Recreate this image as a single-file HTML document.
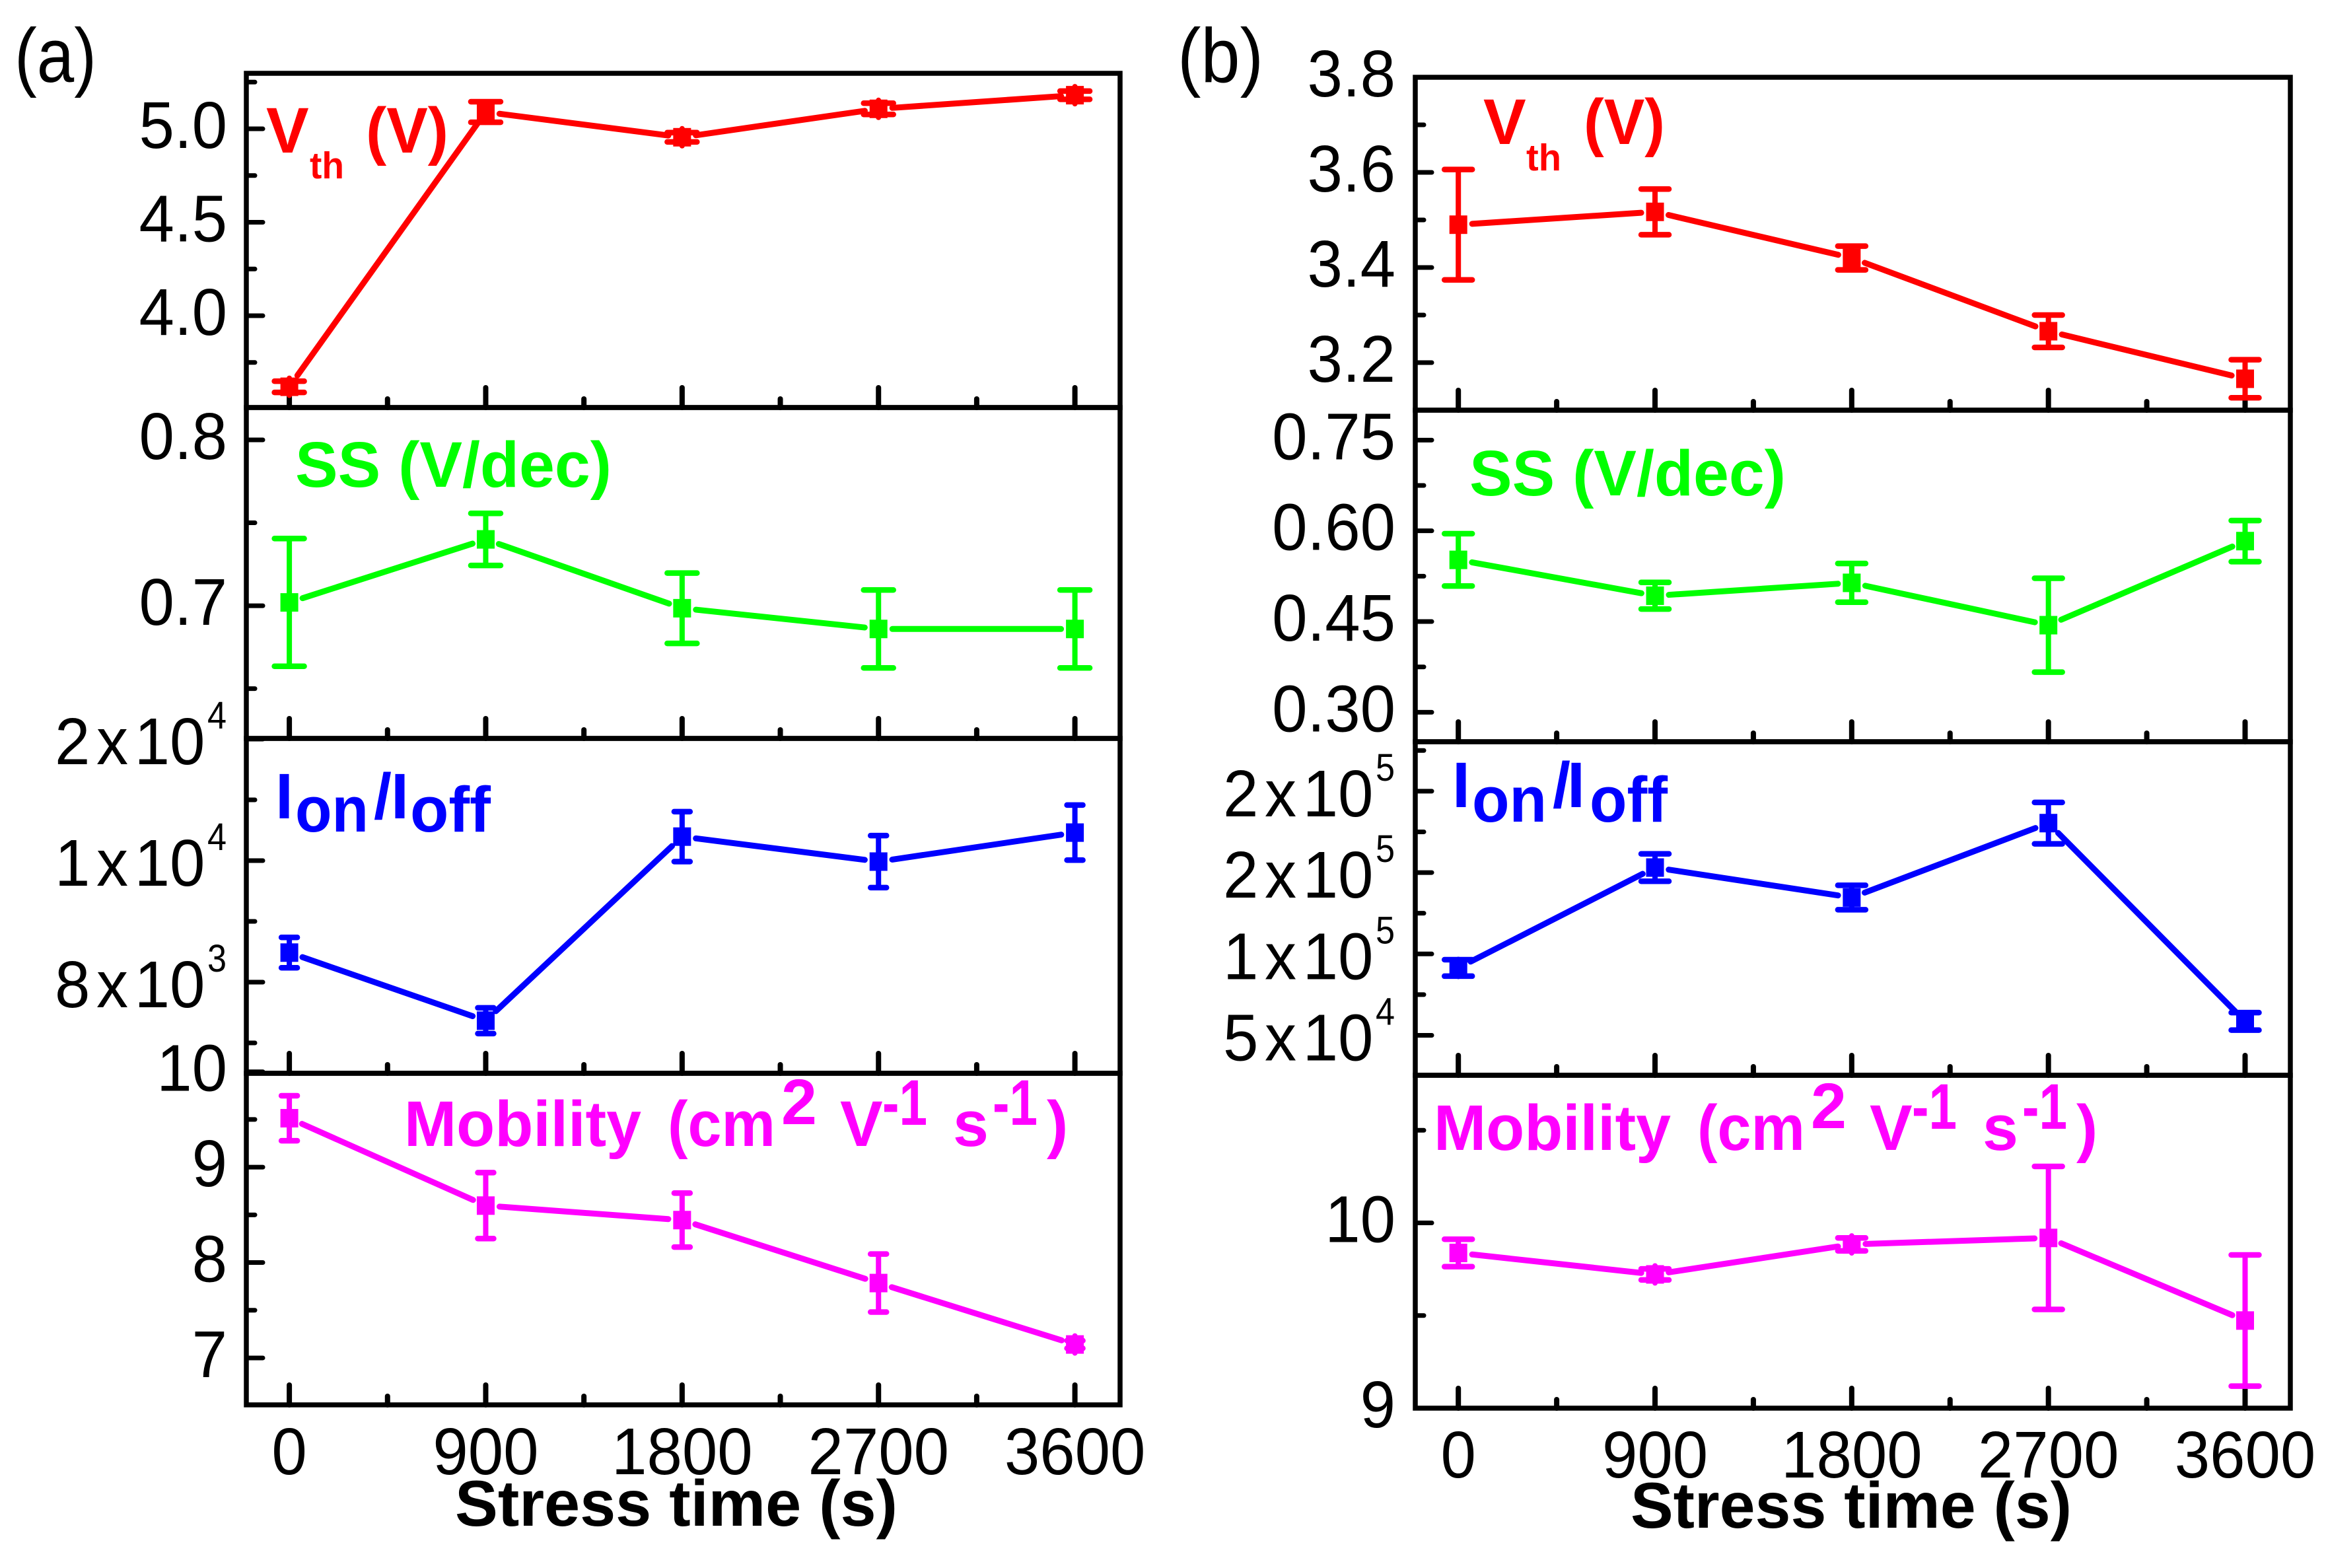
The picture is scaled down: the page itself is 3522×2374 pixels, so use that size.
<!DOCTYPE html>
<html lang="en">
<head>
<meta charset="utf-8">
<title>Stress time parameter charts</title>
<style>
html,body{margin:0;padding:0;background:#fff;width:3522px;height:2374px;overflow:hidden}
svg{display:block;font-family:"Liberation Sans",sans-serif}
.tick{font-size:100px;fill:#000}
.sup{font-size:58px;fill:#000}
.lab{font-size:97px;font-weight:bold}
.sub{font-size:57px;font-weight:bold}
.title{font-size:98px;font-weight:bold;fill:#000}
.letter{font-size:116px;fill:#000}
</style>
</head>
<body>
<svg id="chart" xmlns="http://www.w3.org/2000/svg" width="3522" height="2374" viewBox="0 0 3522 2374">
  <rect x="0" y="0" width="3522" height="2374" fill="#fff"/>
  <g id="plots"></g>

  <text class="letter" x="22" y="124" textLength="124" lengthAdjust="spacingAndGlyphs">(a)</text>
  <text class="letter" x="1783" y="124" textLength="130" lengthAdjust="spacingAndGlyphs">(b)</text>

  <text class="title" x="689" y="2310" textLength="670" lengthAdjust="spacingAndGlyphs">Stress time (s)</text>
  <text class="title" x="2469" y="2313" textLength="668" lengthAdjust="spacingAndGlyphs">Stress time (s)</text>

  <g fill="#f00">
    <text class="lab" x="403" y="231">V</text>
    <text class="sub" x="469" y="270" textLength="52" lengthAdjust="spacingAndGlyphs">th</text>
    <text class="lab" x="554" y="231" textLength="125" lengthAdjust="spacingAndGlyphs">(V)</text>
  </g>
  <g fill="#f00">
    <text class="lab" x="2246" y="218">V</text>
    <text class="sub" x="2311" y="258" textLength="53" lengthAdjust="spacingAndGlyphs">th</text>
    <text class="lab" x="2398" y="218" textLength="123" lengthAdjust="spacingAndGlyphs">(V)</text>
  </g>

  <text class="lab" fill="#0f0" x="447" y="737" textLength="479" lengthAdjust="spacingAndGlyphs">SS (V/dec)</text>
  <text class="lab" fill="#0f0" x="2225" y="750" textLength="479" lengthAdjust="spacingAndGlyphs">SS (V/dec)</text>

  <g fill="#00f">
    <text class="lab" x="417" y="1239">I</text>
    <text class="lab" x="447" y="1259" textLength="111" lengthAdjust="spacingAndGlyphs">on</text>
    <text class="lab" x="566" y="1239">/</text>
    <text class="lab" x="592" y="1239">I</text>
    <text class="lab" x="621" y="1259" textLength="122" lengthAdjust="spacingAndGlyphs">off</text>
  </g>
  <g fill="#00f">
    <text class="lab" x="2199" y="1222">I</text>
    <text class="lab" x="2229" y="1244" textLength="113" lengthAdjust="spacingAndGlyphs">on</text>
    <text class="lab" x="2351" y="1222">/</text>
    <text class="lab" x="2373" y="1222">I</text>
    <text class="lab" x="2407" y="1244" textLength="118" lengthAdjust="spacingAndGlyphs">off</text>
  </g>

  <g fill="#f0f">
    <text class="lab" x="612" y="1735" textLength="359" lengthAdjust="spacingAndGlyphs">Mobility</text>
    <text class="lab" x="1011" y="1735" textLength="163" lengthAdjust="spacingAndGlyphs">(cm</text>
    <text class="lab" x="1183" y="1702">2</text>
    <text class="lab" x="1272" y="1735">V</text>
    <text class="lab" x="1336" y="1703" textLength="68" lengthAdjust="spacingAndGlyphs">-1</text>
    <text class="lab" x="1443" y="1735">s</text>
    <text class="lab" x="1503" y="1703" textLength="68" lengthAdjust="spacingAndGlyphs">-1</text>
    <text class="lab" x="1585" y="1735">)</text>
  </g>
  <g fill="#f0f">
    <text class="lab" x="2171" y="1741" textLength="359" lengthAdjust="spacingAndGlyphs">Mobility</text>
    <text class="lab" x="2570" y="1741" textLength="163" lengthAdjust="spacingAndGlyphs">(cm</text>
    <text class="lab" x="2742" y="1708">2</text>
    <text class="lab" x="2831" y="1741">V</text>
    <text class="lab" x="2895" y="1709" textLength="68" lengthAdjust="spacingAndGlyphs">-1</text>
    <text class="lab" x="3002" y="1741">s</text>
    <text class="lab" x="3062" y="1709" textLength="68" lengthAdjust="spacingAndGlyphs">-1</text>
    <text class="lab" x="3144" y="1741">)</text>
  </g>
</svg>

<script>
// ---- data ----
const timeCategories = [0, 900, 1800, 2700, 3600];
const xTickLabels = ['0', '900', '1800', '2700', '3600'];
const xMinorTicks = [450, 1350, 2250, 3150];
const xDomain = [-197, 3807];

const vthAValues = [3.62, 5.09, 4.955, 5.107, 5.18];
const vthAErrors = [0.03, 0.055, 0.025, 0.03, 0.022];
const vthADomain = [3.509, 5.297];
const vthATicks = [4.0, 4.5, 5.0];
const vthATickLabels = ['4.0', '4.5', '5.0'];
const vthAMinor = [3.75, 4.25, 4.75, 5.25];

const ssAValues = [0.702, 0.74, 0.6985, 0.686, 0.686];
const ssAErrors = [0.0385, 0.0157, 0.0212, 0.0235, 0.0235];
const ssADomain = [0.62, 0.8195];
const ssATicks = [0.7, 0.8];
const ssATickLabels = ['0.7', '0.8'];
const ssAMinor = [0.65, 0.75];

const ionAValues = [8486, 7366, 10395, 9984, 10461];
const ionAErrors = [250, 212, 411, 428, 453];
const ionADomain = [6500, 12011];
const ionATicks = [8000, 10000, 12000];
const ionATickLabels = ['8x10^3', '1x10^4', '2x10^4'];
const ionAMinor = [7000, 9000, 11000];

const mobAValues = [9.513, 8.597, 8.445, 7.785, 7.141];
const mobAErrors = [0.236, 0.346, 0.283, 0.304, 0.04];
const mobADomain = [6.508, 9.984];
const mobATicks = [7, 8, 9, 10];
const mobATickLabels = ['7', '8', '9', '10'];
const mobAMinor = [7.5, 8.5, 9.5];

const vthBValues = [3.49, 3.517, 3.42, 3.266, 3.166];
const vthBErrors = [0.116, 0.048, 0.025, 0.034, 0.04];
const vthBDomain = [3.1, 3.8];
const vthBTicks = [3.2, 3.4, 3.6, 3.8];
const vthBTickLabels = ['3.2', '3.4', '3.6', '3.8'];
const vthBMinor = [3.3, 3.5, 3.7];

const ssBValues = [0.552, 0.4927, 0.514, 0.444, 0.583];
const ssBErrors = [0.0433, 0.022, 0.032, 0.0776, 0.034];
const ssBDomain = [0.2513, 0.7995];
const ssBTicks = [0.3, 0.45, 0.6, 0.75];
const ssBTickLabels = ['0.30', '0.45', '0.60', '0.75'];
const ssBMinor = [0.375, 0.525, 0.675];

const ionBValues = [91411, 153067, 134663, 180368, 58589];
const ionBErrors = [5061, 8436, 7515, 12730, 5368];
const ionBDomain = [25460, 230368];
const ionBTicks = [50000, 100000, 150000, 200000];
const ionBTickLabels = ['5x10^4', '1x10^5', '2x10^5', '2x10^5'];
const ionBMinor = [75000, 125000, 175000, 225000];

const mobBValues = [9.838, 9.722, 9.884, 9.919, 9.473];
const mobBErrors = [0.074, 0.03, 0.035, 0.386, 0.354];
const mobBDomain = [9, 10.797];
const mobBTicks = [9, 10];
const mobBTickLabels = ['9', '10'];
const mobBMinor = [9.5, 10.5];

// ---- layout ----
const SVGNS = 'http://www.w3.org/2000/svg';
const root = document.getElementById('plots');
const columnA = { left: 373, right: 1696, labelRight: 344, sciMainRight: 311, xLabelY: 2232 };
const columnB = { left: 2143, right: 3468, labelRight: 2113, sciMainRight: 2080, xLabelY: 2237 };

const panels = [
  { key: 'vth-a', col: columnA, top: 111, bottom: 617, capHalf: 22.5, color: '#ff0000', values: vthAValues, errors: vthAErrors, domain: vthADomain, ticks: vthATicks, labels: vthATickLabels, minor: vthAMinor },
  { key: 'ss-a', col: columnA, top: 617, bottom: 1118, capHalf: 22.5, color: '#00ff00', values: ssAValues, errors: ssAErrors, domain: ssADomain, ticks: ssATicks, labels: ssATickLabels, minor: ssAMinor },
  { key: 'ion-ioff-a', col: columnA, top: 1118, bottom: 1625, capHalf: 12, color: '#0000ff', values: ionAValues, errors: ionAErrors, domain: ionADomain, ticks: ionATicks, labels: ionATickLabels, minor: ionAMinor },
  { key: 'mobility-a', col: columnA, top: 1625, bottom: 2127, capHalf: 12, color: '#ff00ff', values: mobAValues, errors: mobAErrors, domain: mobADomain, ticks: mobATicks, labels: mobATickLabels, minor: mobAMinor, xLabels: true },
  { key: 'vth-b', col: columnB, top: 117, bottom: 621, capHalf: 21, color: '#ff0000', values: vthBValues, errors: vthBErrors, domain: vthBDomain, ticks: vthBTicks, labels: vthBTickLabels, minor: vthBMinor },
  { key: 'ss-b', col: columnB, top: 621, bottom: 1123, capHalf: 21, color: '#00ff00', values: ssBValues, errors: ssBErrors, domain: ssBDomain, ticks: ssBTicks, labels: ssBTickLabels, minor: ssBMinor },
  { key: 'ion-ioff-b', col: columnB, top: 1123, bottom: 1628, capHalf: 21, color: '#0000ff', values: ionBValues, errors: ionBErrors, domain: ionBDomain, ticks: ionBTicks, labels: ionBTickLabels, minor: ionBMinor },
  { key: 'mobility-b', col: columnB, top: 1628, bottom: 2132, capHalf: 21, color: '#ff00ff', values: mobBValues, errors: mobBErrors, domain: mobBDomain, ticks: mobBTicks, labels: mobBTickLabels, minor: mobBMinor, xLabels: true }
];

function make(tag, attrs, parent) {
  const n = document.createElementNS(SVGNS, tag);
  for (const k in attrs) n.setAttribute(k, attrs[k]);
  parent.appendChild(n);
  return n;
}

function drawPanel(p) {
  const xScale = t => p.col.left + (t - xDomain[0]) / (xDomain[1] - xDomain[0]) * (p.col.right - p.col.left);
  const yScale = v => p.bottom - (v - p.domain[0]) / (p.domain[1] - p.domain[0]) * (p.bottom - p.top);

  const g = make('g', {}, root);
  
  

  const frame = make('rect', { x: p.col.left, y: p.top, width: p.col.right - p.col.left, height: p.bottom - p.top, fill: 'none', stroke: '#000', 'stroke-width': 7.5 }, g);
  
  

  // x ticks
  timeCategories.forEach((t, i) => {
    const tick = make('line', { x1: xScale(t), x2: xScale(t), y1: p.bottom, y2: p.bottom - 30, stroke: '#000', 'stroke-width': 8, 'stroke-linecap': 'round' }, g);
    
    
    if (p.xLabels) {
      const lab = make('text', { transform: 'translate(' + xScale(t) + ',' + p.col.xLabelY + ') scale(0.96,1)', 'text-anchor': 'middle', class: 'tick' }, g);
      lab.textContent = xTickLabels[i];
      
      
    }
  });
  xMinorTicks.forEach(t => {
    const tick = make('line', { x1: xScale(t), x2: xScale(t), y1: p.bottom, y2: p.bottom - 13, stroke: '#000', 'stroke-width': 8, 'stroke-linecap': 'round' }, g);
    
    
  });

  // y ticks
  p.ticks.forEach((v, i) => {
    const y = yScale(v);
    const tick = make('line', { x1: p.col.left, x2: p.col.left + 25, y1: y, y2: y, stroke: '#000', 'stroke-width': 7, 'stroke-linecap': 'round' }, g);
    
    
    const parts = p.labels[i].split('^');
    if (parts.length === 2) {
      const main = make('text', { transform: 'translate(' + (p.col.sciMainRight - 228) + ',' + (y + 38) + ') scale(0.96,1)', class: 'tick' }, g);
      
      
      const chars = [parts[0].slice(0, 1), parts[0].slice(1, 2), parts[0].slice(2)];
      chars.forEach((c, j) => {
        const span = make('tspan', j ? { dx: 10 } : {}, main);
        span.textContent = c;
      });
      const sup = make('text', { transform: 'translate(' + (p.col.sciMainRight + 3) + ',' + (y - 16) + ') scale(0.9,1)', class: 'sup' }, g);
      sup.textContent = parts[1];
      
      
    } else {
      const lab = make('text', { transform: 'translate(' + p.col.labelRight + ',' + (y + 29) + ') scale(0.96,1)', 'text-anchor': 'end', class: 'tick' }, g);
      lab.textContent = parts[0];
      
      
    }
  });
  p.minor.forEach(v => {
    const y = yScale(v);
    const tick = make('line', { x1: p.col.left, x2: p.col.left + 13, y1: y, y2: y, stroke: '#000', 'stroke-width': 7, 'stroke-linecap': 'round' }, g);
    
    
  });

  // line segments with a small gap around the markers
  const gap = 21;
  for (let i = 0; i < p.values.length - 1; i++) {
    const x1 = xScale(timeCategories[i]), y1 = yScale(p.values[i]);
    const x2 = xScale(timeCategories[i + 1]), y2 = yScale(p.values[i + 1]);
    const len = Math.hypot(x2 - x1, y2 - y1);
    const ux = (x2 - x1) / len, uy = (y2 - y1) / len;
    const seg = make('line', { x1: x1 + ux * gap, y1: y1 + uy * gap, x2: x2 - ux * gap, y2: y2 - uy * gap, stroke: p.color, 'stroke-width': 9, 'stroke-linecap': 'round' }, g);
    
    
  }

  // error bars and markers
  p.values.forEach((v, i) => {
    const x = xScale(timeCategories[i]);
    const yC = yScale(v);
    const yHi = yScale(v + p.errors[i]);
    const yLo = yScale(v - p.errors[i]);
    const stem = make('line', { x1: x, x2: x, y1: Math.min(yHi, yC - 13), y2: Math.max(yLo, yC + 13), stroke: p.color, 'stroke-width': 8, 'stroke-linecap': 'round' }, g);
    
    
    [yHi, yLo].forEach(cy => {
      const cap = make('line', { x1: x - p.capHalf, x2: x + p.capHalf, y1: cy, y2: cy, stroke: p.color, 'stroke-width': 8.5, 'stroke-linecap': 'round' }, g);
      
      
    });
    const mark = make('rect', { x: x - 13.5, y: yC - 14, width: 27, height: 28, fill: p.color }, g);
    
    
  });
}

panels.forEach(drawPanel);
</script>
</body>
</html>
